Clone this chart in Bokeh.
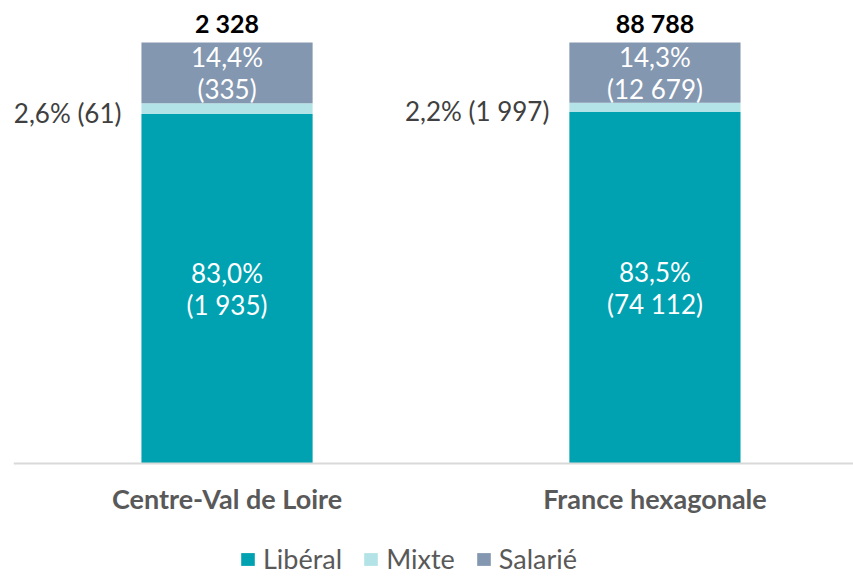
from bokeh.plotting import figure
from bokeh.models import ColumnDataSource, Range1d, FixedTicker, Legend, LegendItem
from bokeh.core.properties import value
from bokeh.embed import file_html
from bokeh.resources import INLINE

categories = ["Centre-Val de Loire", "France hexagonale"]
totals = [2328, 88788]
liberal_pct = [83.0, 83.5]
mixte_pct = [2.6, 2.2]
salarie_pct = [14.4, 14.3]
liberal_n = [1935, 74112]
mixte_n = [61, 1997]
salarie_n = [335, 12679]

FONT = "Lato"
C_LIB = "#00A2B1"
C_MIX = "#B3E3E7"
C_SAL = "#8497B0"


def fmt_n(n):
    return f"{n:,}".replace(",", " ")


def fmt_p(p):
    return f"{p:.1f}".replace(".", ",") + "%"


xs = [i + 0.5 for i in range(len(categories))]
lib_top = liberal_pct
mix_top = [a + b for a, b in zip(liberal_pct, mixte_pct)]
sal_top = [a + b for a, b in zip(mix_top, salarie_pct)]

W = 0.4
src = ColumnDataSource(dict(
    x=xs,
    lib_b=[0] * len(xs), lib_t=lib_top,
    mix_b=lib_top, mix_t=mix_top,
    sal_b=mix_top, sal_t=sal_top,
    lib_mid=[t / 2 for t in lib_top],
    sal_mid=[(a + b) / 2 for a, b in zip(mix_top, sal_top)],
    mix_mid=[(a + b) / 2 for a, b in zip(lib_top, mix_top)],
    lib_p=[fmt_p(v) for v in liberal_pct],
    lib_n=["(" + fmt_n(v) + ")" for v in liberal_n],
    sal_p=[fmt_p(v) for v in salarie_pct],
    sal_n=["(" + fmt_n(v) + ")" for v in salarie_n],
    mix_lbl=[fmt_p(p) + " (" + fmt_n(n) + ")" for p, n in zip(mixte_pct, mixte_n)],
    tot=[fmt_n(v) for v in totals],
    top=sal_top,
    mix_x=[x - W / 2 for x in xs],
))

p = figure(width=853, height=576, output_backend="svg", toolbar_location=None,
           x_range=Range1d(0.001, 1.964), y_range=Range1d(-26.84, 109.98),
           min_border_left=13, min_border_right=0, min_border_top=0, min_border_bottom=0)
p.outline_line_color = None
p.xgrid.grid_line_color = None
p.ygrid.grid_line_color = None
p.yaxis.visible = False
p.background_fill_color = "white"

r_lib = p.vbar(x="x", bottom="lib_b", top="lib_t", width=W, source=src, fill_color=C_LIB, line_color=None)
r_mix = p.vbar(x="x", bottom="mix_b", top="mix_t", width=W, source=src, fill_color=C_MIX, line_color=None)
r_sal = p.vbar(x="x", bottom="sal_b", top="sal_t", width=W, source=src, fill_color=C_SAL, line_color=None)

ax = p.xaxis[0]
ax.fixed_location = 0
ax.ticker = FixedTicker(ticks=xs)
ax.major_label_overrides = {x: c for x, c in zip(xs, categories)}
ax.major_tick_line_color = None
ax.minor_tick_line_color = None
ax.axis_line_color = "#D9D9D9"
ax.axis_line_width = 2
ax.major_label_standoff = 12
ax.major_label_text_font = FONT
ax.major_label_text_font_size = "27px"
ax.major_label_text_font_style = "bold"
ax.major_label_text_color = "#595959"

common = dict(source=src, text_font=value(FONT), text_align="center", text_baseline="middle")
p.text(x="x", y="lib_mid", text="lib_p", y_offset=-16, text_color="white", text_font_size="26px", **common)
p.text(x="x", y="lib_mid", text="lib_n", y_offset=16, text_color="white", text_font_size="26px", **common)
p.text(x="x", y="sal_mid", text="sal_p", y_offset=-16, text_color="white", text_font_size="26px", **common)
p.text(x="x", y="sal_mid", text="sal_n", y_offset=16, text_color="white", text_font_size="26px", **common)
p.text(x="x", y="top", text="tot", y_offset=-20, text_color="black", text_font_size="25px",
       text_font_style="bold", **common)
p.text(x="mix_x", y="mix_mid", text="mix_lbl", x_offset=-20, y_offset=4, text_color="#404040",
       text_font_size="26px", source=src, text_font=value(FONT), text_align="right",
       text_baseline="middle")

legend = Legend(items=[LegendItem(label="Libéral", renderers=[r_lib]),
                       LegendItem(label="Mixte", renderers=[r_mix]),
                       LegendItem(label="Salarié", renderers=[r_sal])],
                orientation="horizontal", location=(226, 1),
                label_text_font=FONT, label_text_font_size="27px", label_text_color="#595959",
                glyph_width=17, glyph_height=16, spacing=20, label_standoff=7,
                background_fill_alpha=0, border_line_color=None, padding=0, margin=0)
p.add_layout(legend)

open("out.html", "w").write(file_html(p, INLINE))
